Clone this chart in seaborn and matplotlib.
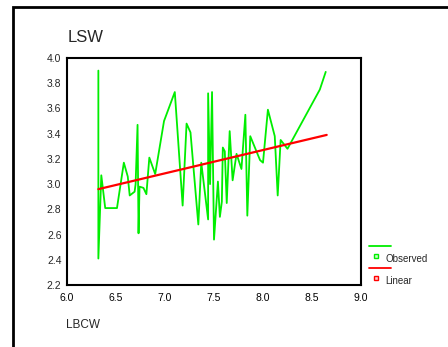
import matplotlib
matplotlib.use("Agg")
import matplotlib.pyplot as plt
import seaborn as sns
import pandas as pd
from matplotlib.lines import Line2D
from matplotlib.patches import Rectangle

# ---- data ----
obs_x = [6.32, 6.32, 6.35, 6.39, 6.51, 6.58, 6.62, 6.64, 6.69, 6.70,
         6.72, 6.73, 6.74, 6.78, 6.81, 6.84, 6.90, 6.99, 7.10, 7.18,
         7.22, 7.26, 7.34, 7.37, 7.44, 7.44, 7.46, 7.48, 7.50, 7.54,
         7.56, 7.58, 7.59, 7.61, 7.63, 7.66, 7.69, 7.73, 7.78, 7.82,
         7.84, 7.87, 7.97, 8.00, 8.05, 8.12, 8.15, 8.18, 8.21, 8.25,
         8.58, 8.64]
obs_y = [3.90, 2.41, 3.07, 2.81, 2.81, 3.17, 3.06, 2.91, 2.94, 3.00,
         3.47, 2.61, 2.98, 2.97, 2.92, 3.21, 3.08, 3.50, 3.73, 2.83,
         3.48, 3.41, 2.68, 3.17, 2.72, 3.72, 3.00, 3.73, 2.56, 3.02,
         2.74, 2.86, 3.29, 3.26, 2.85, 3.42, 3.03, 3.24, 3.12, 3.55,
         2.75, 3.38, 3.19, 3.17, 3.59, 3.38, 2.91, 3.35, 3.32, 3.28,
         3.75, 3.89]
lin_x = [6.32, 8.65]
lin_y = [2.96, 3.39]
x_ticks = [6.0, 6.5, 7.0, 7.5, 8.0, 8.5, 9.0]
y_ticks = [2.2, 2.4, 2.6, 2.8, 3.0, 3.2, 3.4, 3.6, 3.8, 4.0]
title = "LSW"
xlabel = "LBCW"
legend_labels = ["Observed", "Linear"]

GREEN = "#00ee00"
RED = "#ff0000"

sns.set_style("white")
plt.rcParams["font.family"] = ["Liberation Sans", "DejaVu Sans"]

W, H = 448, 347
fig = plt.figure(figsize=(W / 100, H / 100), dpi=100)
ax = fig.add_axes([67 / W, 1 - 285 / H, (361 - 67) / W, (285 - 58) / H])

obs = pd.DataFrame({"x": obs_x, "y": obs_y})
lin = pd.DataFrame({"x": lin_x, "y": lin_y})
sns.lineplot(data=obs, x="x", y="y", ax=ax, color=GREEN, lw=1.3,
             estimator=None, sort=False)
sns.lineplot(data=lin, x="x", y="y", ax=ax, color=RED, lw=1.6,
             estimator=None, sort=False)

ax.set_xlim(6.0, 9.0)
ax.set_ylim(2.2, 4.0)
ax.set_xticks(x_ticks)
ax.set_xticklabels([f"{v:.1f}" for v in x_ticks], fontsize=7.5)
ax.set_yticks(y_ticks)
ax.set_yticklabels([f"{v:.1f}" for v in y_ticks], fontsize=7.5)
ax.tick_params(axis="x", direction="out", length=1.5, width=3.6, pad=4,
               colors="black")
ax.tick_params(axis="y", length=0, pad=4)
ax.set_xlabel("")
ax.set_ylabel("")
for s in ax.spines.values():
    s.set_visible(True)
    s.set_color("black")
    s.set_linewidth(1.5)

# titles
fig.text(68 / W, 1 - 38 / H, title, fontsize=12, ha="left", va="center")
fig.text(66 / W, 1 - 325 / H, xlabel, fontsize=8.5, ha="left", va="center")

# legend (SPSS style)
def fx(p):
    return p / W

def fy(p):
    return 1 - p / H

fig.add_artist(Line2D([fx(369), fx(391)], [fy(246), fy(246)], color=GREEN, lw=1.3))
fig.add_artist(Line2D([fx(376)], [fy(256)], marker="s", ms=3.5, mfc="#ccffcc",
                      mec=GREEN, mew=1.0, ls=""))
fig.text(fx(385), fy(259), legend_labels[0], fontsize=7, ha="left", va="center")
fig.add_artist(Line2D([fx(369), fx(391)], [fy(268), fy(268)], color=RED, lw=1.3))
fig.add_artist(Line2D([fx(376)], [fy(278)], marker="s", ms=3.5, mfc="#ffcccc",
                      mec=RED, mew=1.0, ls=""))
fig.text(fx(385), fy(281), legend_labels[1], fontsize=7, ha="left", va="center")

# outer frame
fig.add_artist(Rectangle((fx(13), -0.1), 1.2, fy(7) + 0.1, transform=fig.transFigure,
                         fill=False, ec="black", lw=2))

fig.savefig("out.png", dpi=100)
